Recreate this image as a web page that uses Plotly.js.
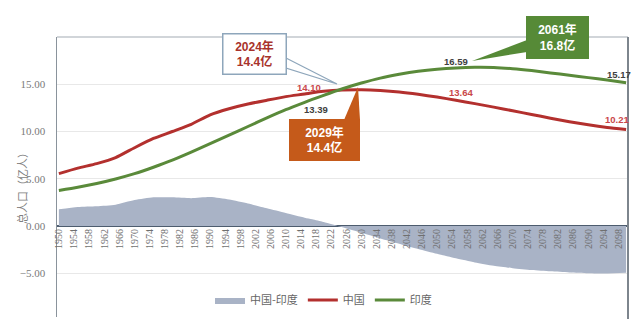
<!DOCTYPE html>
<html>
<head>
<meta charset="utf-8">
<script src="https://cdn.plot.ly/plotly-3.0.1.min.js"></script>
<style>html,body{margin:0;padding:0;background:#fff;}#chart{width:640px;height:319px;}</style>
</head>
<body>
<div id="chart"></div>
<script>
// ---- data (亿人) ----
const years = [1950,1955,1960,1965,1970,1975,1980,1985,1990,1995,2000,2005,2010,2015,2017,2020,2025,2030,2035,2040,2045,2050,2055,2060,2065,2070,2075,2080,2085,2090,2095,2100];
const china = [5.54,6.12,6.60,7.24,8.28,9.26,10.00,10.76,11.77,12.41,12.91,13.31,13.69,13.97,14.10,14.25,14.38,14.41,14.33,14.17,13.93,13.64,13.31,12.95,12.58,12.19,11.80,11.41,11.04,10.71,10.43,10.21];
const india = [3.76,4.10,4.50,4.98,5.54,6.22,6.97,7.82,8.71,9.61,10.53,11.44,12.31,13.09,13.39,13.83,14.52,15.13,15.65,16.05,16.37,16.59,16.73,16.80,16.78,16.65,16.45,16.20,15.95,15.70,15.45,15.17];
const diff  = [1.78,2.02,2.10,2.26,2.74,3.04,3.03,2.94,3.06,2.80,2.38,1.87,1.38,0.88,0.71,0.42,-0.14,-0.72,-1.32,-1.88,-2.44,-2.95,-3.42,-3.85,-4.20,-4.46,-4.65,-4.79,-4.91,-4.99,-5.02,-4.96];
const seriesNames = ['中国-印度','中国','印度'];
const xTicks = [1950,1954,1958,1962,1966,1970,1974,1978,1982,1986,1990,1994,1998,2002,2006,2010,2014,2018,2022,2026,2030,2034,2038,2042,2046,2050,2054,2058,2062,2066,2070,2074,2078,2082,2086,2090,2094,2098];
const yTicks = [-5,0,5,10,15];
const labelYears = [2017,2050,2100];
const callTexts = ['2024年<br>14.4亿','2029年<br>14.4亿','2061年<br>16.8亿'];

// ---- layout helpers (pixel -> paper) ----
const L = 57, R = 628, T = 37, B = 317;
const xp = px => (px - L) / (R - L);
const yp = py => (B - py) / (B - T);
const yRange = [-9.63, 20];
const zeroPos = (0 - yRange[0]) / (yRange[1] - yRange[0]);

const red = '#b3302e', green = '#5a8a3a', areaCol = '#a9b3c6';

const traces = [
  {x: years, y: diff, name: seriesNames[0], type: 'scatter', mode: 'lines', fill: 'tozeroy',
   fillcolor: areaCol, line: {width: 0, color: areaCol, shape: 'spline', smoothing: 0.6}},
  {x: years, y: china, name: seriesNames[1], type: 'scatter', mode: 'lines',
   line: {width: 3, color: red, shape: 'spline', smoothing: 0.6}},
  {x: years, y: india, name: seriesNames[2], type: 'scatter', mode: 'lines',
   line: {width: 3, color: green, shape: 'spline', smoothing: 0.6}}
];

// data labels
const annotations = [];
const chinaOff = [[-3, 5], [24, 5], [-9, 10]];
const indiaOff = [[4, -10], [19, 8], [-7, 8]];
labelYears.forEach((yr, k) => {
  const i = years.indexOf(yr);
  annotations.push({x: yr, y: china[i], xref: 'x', yref: 'y', text: china[i].toFixed(2), showarrow: false,
    xshift: chinaOff[k][0], yshift: chinaOff[k][1], font: {family: 'Liberation Sans', size: 9.5, color: '#c9474a', weight: 'bold'}});
  annotations.push({x: yr, y: india[i], xref: 'x', yref: 'y', text: india[i].toFixed(2), showarrow: false,
    xshift: indiaOff[k][0], yshift: indiaOff[k][1], font: {family: 'Liberation Sans', size: 9.5, color: '#404040', weight: 'bold'}});
});

// callout boxes
const boxes = [
  {cx: 254, cy: 54, w: 65, h: 42, bg: '#ffffff', border: '#8ea6bb', color: '#a8322b'},
  {cx: 324, cy: 140, w: 71, h: 42, bg: '#c55a1a', border: '#c55a1a', color: '#ffffff'},
  {cx: 557, cy: 37, w: 63, h: 43, bg: '#568a37', border: '#568a37', color: '#ffffff'}
];
boxes.forEach((b, k) => {
  annotations.push({xref: 'paper', yref: 'paper', x: xp(b.cx), y: yp(b.cy), xanchor: 'center', yanchor: 'middle',
    text: callTexts[k], showarrow: false, bgcolor: b.bg, bordercolor: b.border, borderwidth: 1.5, borderpad: 0,
    width: b.w - 3, height: b.h - 3, align: 'center',
    font: {family: 'Liberation Sans, Noto Sans CJK SC', size: 12, color: b.color, weight: 'bold'}});
});

// y-axis title
annotations.push({xref: 'paper', yref: 'paper', x: xp(12), y: yp(186), text: '总人口（亿人）', textangle: -90,
  showarrow: false, font: {family: 'Noto Sans CJK SC', size: 11, color: '#7f7f7f'}});

function tri(pts) {
  return 'M ' + pts.map(p => xp(p[0]) + ',' + yp(p[1])).join(' L ') + ' Z';
}
const shapes = [
  // frame top / right
  {type: 'line', xref: 'paper', yref: 'paper', x0: 0, x1: 1, y0: 1, y1: 1, line: {color: '#a3abb3', width: 1}},
  {type: 'line', xref: 'paper', yref: 'paper', x0: 1, x1: 1, y0: -0.01, y1: 1, line: {color: '#7d858d', width: 2}},
  // callout tails
  {type: 'path', xref: 'paper', yref: 'paper', path: tri([[286, 58], [337, 84], [286, 68]]), fillcolor: '#ffffff', line: {color: '#8ea6bb', width: 1.2}},
  {type: 'path', xref: 'paper', yref: 'paper', path: tri([[344, 120], [358, 87], [360, 120]]), fillcolor: '#c55a1a', line: {width: 0}},
  {type: 'path', xref: 'paper', yref: 'paper', path: tri([[472, 61], [527, 40], [527, 52]]), fillcolor: '#568a37', line: {width: 0}}
];

const layout = {
  width: 640, height: 319,
  margin: {l: L, r: 640 - R, t: T, b: 319 - B, pad: 0},
  paper_bgcolor: '#ffffff', plot_bgcolor: '#ffffff',
  showlegend: true,
  legend: {orientation: 'h', x: xp(210), xanchor: 'left', y: yp(300), yanchor: 'middle',
    bgcolor: 'rgba(0,0,0,0)', font: {family: 'Noto Sans CJK SC', size: 11, color: '#666666'},
    itemwidth: 30, tracegroupgap: 0},
  xaxis: {type: 'linear', range: [1949.5, 2100.5], anchor: 'free', position: zeroPos,
    tickmode: 'array', tickvals: xTicks, ticktext: xTicks.map(String), tickangle: -90,
    tickfont: {family: 'Liberation Serif', size: 10, color: '#6f6f6f'},
    showgrid: false, zeroline: false, showline: false, ticks: ''},
  yaxis: {range: yRange, tickmode: 'array', tickvals: yTicks, tickformat: '.2f',
    tickfont: {family: 'Liberation Serif', size: 11, color: '#7a7a7a'},
    showgrid: true, gridcolor: '#e8e8e8', gridwidth: 1,
    zeroline: true, zerolinecolor: '#4d5c6e', zerolinewidth: 1.5,
    showline: true, linecolor: '#8a939c', linewidth: 1.5, ticks: '', ticklabelstandoff: 8},
  annotations: annotations,
  shapes: shapes
};

Plotly.newPlot('chart', traces, layout, {displayModeBar: false, staticPlot: true});
</script>
</body>
</html>
